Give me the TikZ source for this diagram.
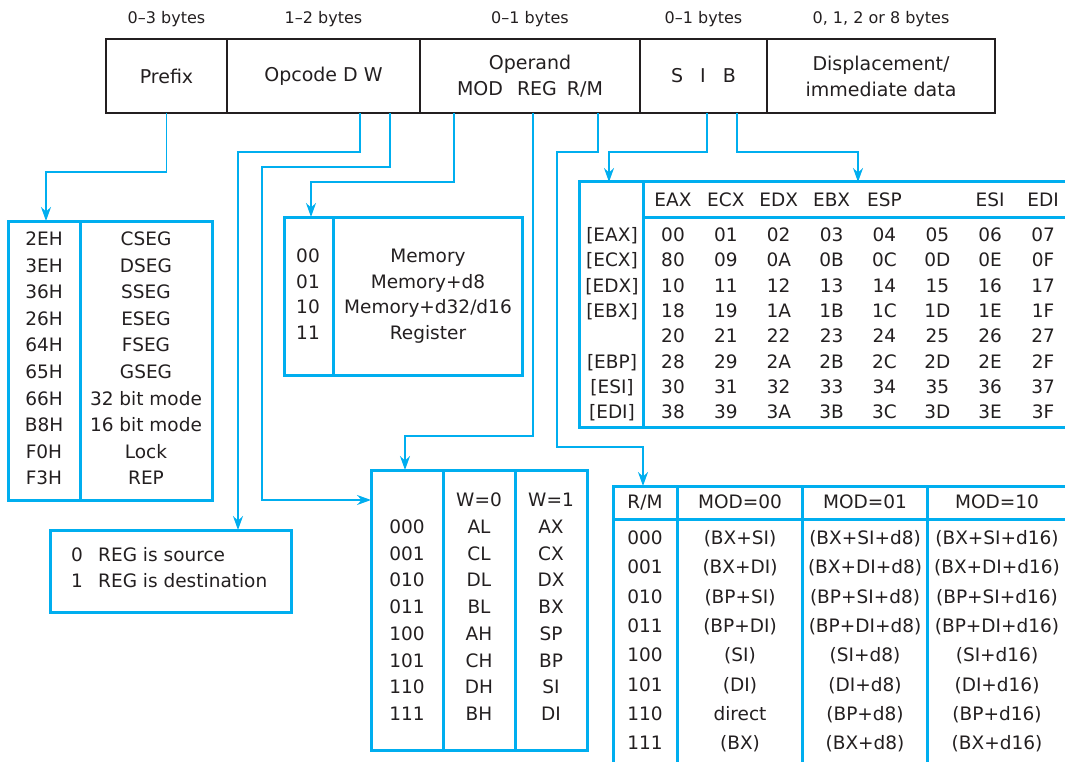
\documentclass[tikz,border=0pt]{standalone}
\usepackage{fontspec}
\setmainfont{DejaVu Sans}
\usetikzlibrary{positioning,arrows.meta}
\definecolor{tabblue}{RGB}{0,174,239}
\definecolor{inkgray}{RGB}{35,31,32}
\tikzset{
  field/.style={draw=inkgray, line width=2pt, minimum height=74pt, inner sep=0pt, outer sep=0pt,
    align=center, text=inkgray, font=\fontsize{19}{26}\selectfont},
  sizelbl/.style={inner sep=0pt, text height=12pt, text depth=0pt, text=inkgray,
    font=\fontsize{16}{18}\selectfont},
  tab/.style={draw=tabblue, line width=3pt, inner sep=0pt, outer sep=0pt, anchor=north west},
  tabline/.style={draw=tabblue, line width=3pt},
  link/.style={draw=tabblue, line width=1.6pt, -{Stealth[length=14pt,width=10pt]}},
  cell/.style={inner sep=0pt, text height=13pt, text depth=0pt, text=inkgray,
    font=\fontsize{18.5}{22}\selectfont}
}
\begin{document}
\begin{tikzpicture}[x=1pt,y=-1pt]
\useasboundingbox (0,0) rectangle (1065,762);
\clip (0,0) rectangle (1065,762);

\node[field, minimum width=121pt] (prefix) at (166.5,76) {Prefix};
\node[field, minimum width=193pt, right=0pt of prefix] (opcode) {Opcode D W};
\node[field, minimum width=220pt, right=0pt of opcode] (operand) {Operand\\MOD\hspace{14pt}REG\hspace{10pt}R/M};
\node[field, minimum width=127pt, right=0pt of operand] (sib) {S\hspace{17pt}I\hspace{17pt}B};
\node[field, minimum width=228pt, right=0pt of sib] (disp) {Displacement/\\immediate data};

\node[sizelbl, above=15pt of prefix] (prefixsz) {0--3 bytes};
\node[sizelbl, above=15pt of opcode] (opcodesz) {1--2 bytes};
\node[sizelbl, above=15pt of operand] (operandsz) {0--1 bytes};
\node[sizelbl, above=15pt of sib] (sibsz) {0--1 bytes};
\node[sizelbl, above=15pt of disp] (dispsz) {0, 1, 2 or 8 bytes};

\node[tab, minimum width=204pt, minimum height=279pt] (segtab) at (8,221) {};
\draw[tabline] ([xshift=72pt]segtab.north west) -- ([xshift=72pt]segtab.south west);

\node[tab, minimum width=241pt, minimum height=82pt] (dirbox) at (50,530) {};

\node[tab, minimum width=238pt, minimum height=158pt] (modbox) at (284,217) {};
\draw[tabline] ([xshift=49pt]modbox.north west) -- ([xshift=49pt]modbox.south west);

\node[tab, minimum width=520pt, minimum height=245pt] (sibtab) at (579,182) {};
\draw[tabline] ([xshift=64pt]sibtab.north west) -- ([xshift=64pt]sibtab.south west);
\draw[tabline] ([xshift=64pt,yshift=-35pt]sibtab.north west) -- ([yshift=-35pt]sibtab.north east);

\node[tab, minimum width=216pt, minimum height=280pt] (regtab) at (371,470) {};
\foreach \dx in {72,144}
{
\draw[tabline] ([xshift=\dx pt]regtab.north west) -- ([xshift=\dx pt]regtab.south west);
}

\node[tab, minimum width=480pt, minimum height=300pt] (rmtab) at (613,486) {};
\foreach \dx in {64,189,314}
{
\draw[tabline] ([xshift=\dx pt]rmtab.north west) -- ([xshift=\dx pt]rmtab.south west);
}
\draw[tabline] ([yshift=-33pt]rmtab.north west) -- ([yshift=-33pt]rmtab.north east);

\coordinate (dbit) at ([xshift=36.5pt]opcode.south);
\coordinate (wbit) at ([xshift=66.5pt]opcode.south);
\coordinate (modbit) at ([xshift=-76pt]operand.south);
\coordinate (regbit) at ([xshift=3pt]operand.south);
\coordinate (rmbit) at ([xshift=68pt]operand.south);
\coordinate (sbit) at ([xshift=3.5pt]sib.south);
\coordinate (bbit) at ([xshift=33.5pt]sib.south);

\draw[link] (prefix.south) -- ++(0,59) -| ([xshift=38pt]segtab.north west);
\draw[link] (dbit) -- ++(0,39) -| ([xshift=188pt]dirbox.north west);
\draw[link] (wbit) -- ++(0,54) -- ++(-128,0) |- ([yshift=-30pt]regtab.north west);
\draw[link] (modbit) -- ++(0,69) -| ([xshift=27pt]modbox.north west);
\draw[link] (regbit) -- ++(0,323) -| ([xshift=34pt]regtab.north west);
\draw[link] (rmbit) -- ++(0,39) -- ++(-41,0) -- ++(0,295) -| ([xshift=30pt]rmtab.north west);
\draw[link] (sbit) -- ++(0,39) -| ([xshift=30pt]sibtab.north west);
\draw[link] (bbit) -- ++(0,39) -| ([xshift=279pt]sibtab.north west);

\foreach \code/\name [count=\i from 0] in {2EH/CSEG,3EH/DSEG,36H/SSEG,26H/ESEG,64H/FSEG,65H/GSEG,66H/32 bit mode,B8H/16 bit mode,F0H/Lock,F3H/REP}
{
\node[cell] (segcode\i) at (44,{239+26.6*\i}) {\code};
\node[cell] (segname\i) at (146,{239+26.6*\i}) {\name};
}

\node[cell] (dirzero) at (77,555) {0};
\node[cell, anchor=west] (dirsrc) at (98,555) {REG is source};
\node[cell] (dirone) at (77,581) {1};
\node[cell, anchor=west] (dirdst) at (98,581) {REG is destination};

\foreach \code/\name [count=\i from 0] in {00/Memory,01/Memory+d8,10/{Memory+d32/d16},11/Register}
{
\node[cell] (modcode\i) at (308,{256+25.5*\i}) {\code};
\node[cell] (modname\i) at (428,{256+25.5*\i}) {\name};
}

\foreach \c/\reg in {0/EAX,1/ECX,2/EDX,3/EBX,4/ESP,6/ESI,7/EDI}
{
\node[cell] (sibhead\c) at ({673+52.86*\c},200) {\reg};
}
\foreach \r/\reg in {0/[EAX],1/[ECX],2/[EDX],3/[EBX],5/[EBP],6/[ESI],7/[EDI]}
{
\node[cell] (sibrow\r) at (612,{235+25.3*\r}) {\reg};
}
\foreach \vals [count=\r from 0] in {{00,01,02,03,04,05,06,07},{80,09,0A,0B,0C,0D,0E,0F},
  {10,11,12,13,14,15,16,17},{18,19,1A,1B,1C,1D,1E,1F},{20,21,22,23,24,25,26,27},
  {28,29,2A,2B,2C,2D,2E,2F},{30,31,32,33,34,35,36,37},{38,39,3A,3B,3C,3D,3E,3F}}
{
\foreach \v [count=\c from 0] in \vals
{
\node[cell] (sib\r-\c) at ({673+52.86*\c},{235+25.3*\r}) {\v};
}
}

\node[cell] (wzero) at (479,500) {W=0};
\node[cell] (wone) at (551,500) {W=1};
\foreach \code/\lo/\hi [count=\i from 0] in {000/AL/AX,001/CL/CX,010/DL/DX,011/BL/BX,100/AH/SP,101/CH/BP,110/DH/SI,111/BH/DI}
{
\node[cell] (regcode\i) at (407,{527+26.7*\i}) {\code};
\node[cell] (reglo\i) at (479,{527+26.7*\i}) {\lo};
\node[cell] (reghi\i) at (551,{527+26.7*\i}) {\hi};
}

\node[cell] (rmhead) at (645,502) {R/M};
\node[cell] (modzero) at (740,502) {MOD=00};
\node[cell] (modone) at (865,502) {MOD=01};
\node[cell] (modtwo) at (997,502) {MOD=10};
\foreach \code/\a/\b/\d [count=\i from 0] in {000/{(BX+SI)}/{(BX+SI+d8)}/{(BX+SI+d16)},
  001/{(BX+DI)}/{(BX+DI+d8)}/{(BX+DI+d16)},010/{(BP+SI)}/{(BP+SI+d8)}/{(BP+SI+d16)},
  011/{(BP+DI)}/{(BP+DI+d8)}/{(BP+DI+d16)},100/{(SI)}/{(SI+d8)}/{(SI+d16)},
  101/{(DI)}/{(DI+d8)}/{(DI+d16)},110/direct/{(BP+d8)}/{(BP+d16)},111/{(BX)}/{(BX+d8)}/{(BX+d16)}}
{
\node[cell] (rmcode\i) at (645,{538+29.3*\i}) {\code};
\node[cell] (rmzero\i) at (740,{538+29.3*\i}) {\a};
\node[cell] (rmone\i) at (865,{538+29.3*\i}) {\b};
\node[cell] (rmtwo\i) at (997,{538+29.3*\i}) {\d};
}

\end{tikzpicture}
\end{document}
